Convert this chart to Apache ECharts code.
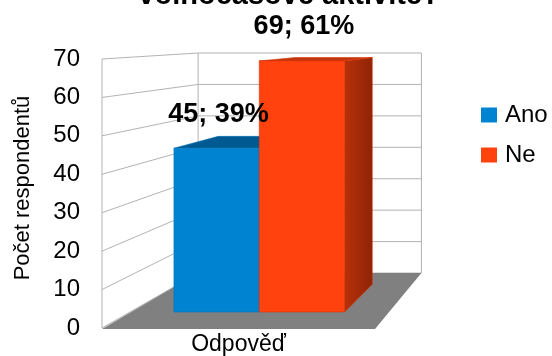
<!DOCTYPE html>
<html>
<head>
<meta charset="utf-8">
<script src="https://cdn.jsdelivr.net/npm/echarts@6/dist/echarts.min.js"></script>
<style>
  html, body { margin: 0; padding: 0; background: #fff; }
  #chart { width: 552px; height: 356px; }
</style>
</head>
<body>
<div id="chart"></div>
<script>
// Survey answers: number of respondents per answer
const titleText = 'volnočasové aktivitě?';
const categories = ['Odpověď'];
const seriesNames = ['Ano', 'Ne'];
const anoValues = [45];
const neValues = [69];
const yTicks = [0, 10, 20, 30, 40, 50, 60, 70];
const axisName = 'Počet respondentů';

const valueSets = [anoValues, neValues];
const totals = categories.map((c, i) => valueSets.reduce((s, arr) => s + arr[i], 0));

const FONT = '"Liberation Sans", Arial, sans-serif';

// Simple one-point perspective used for the 3D box look
const VP_DX = 255;      // vanishing point, right of the plot
const VP_DY = -33;      // vanishing point, above the plot
const S_WALL = 0.818;   // depth scale of the back wall
const S_FRONT = 0.947;  // depth scale of the bar front faces
const S_BACK = 0.855;   // depth scale of the bar back faces
const BAR_SHARE = 0.33; // share of the category band per bar

function vanishing(cs) {
  return [cs.x + cs.width + VP_DX, cs.y + VP_DY];
}
function project(vp, x, y, s) {
  return [vp[0] + s * (x - vp[0]), vp[1] + s * (y - vp[1])];
}

// Left wall and back wall with their grid lines
function renderWalls(params, api) {
  const cs = params.coordSys;
  const vp = vanishing(cs);
  const y = api.coord([api.value(0), api.value(1)])[1];
  const xL = cs.x, xR = cs.x + cs.width;
  const bL = project(vp, xL, y, S_WALL);
  const bR = project(vp, xR, y, S_WALL);
  const lineStyle = { stroke: '#b3b3b3', lineWidth: 1, fill: null };
  const children = [
    { type: 'line', shape: { x1: xL, y1: y, x2: bL[0], y2: bL[1] }, style: lineStyle },
    { type: 'line', shape: { x1: bL[0], y1: bL[1], x2: bR[0], y2: bR[1] }, style: lineStyle }
  ];
  if (params.dataIndex === 0) {
    const yTop = cs.y, yBot = cs.y + cs.height;
    const tl = project(vp, xL, yTop, S_WALL), bl = project(vp, xL, yBot, S_WALL);
    const tr = project(vp, xR, yTop, S_WALL), br = project(vp, xR, yBot, S_WALL);
    children.push(
      { type: 'line', shape: { x1: xL, y1: yTop, x2: xL, y2: yBot }, style: lineStyle },
      { type: 'line', shape: { x1: tl[0], y1: tl[1], x2: bl[0], y2: bl[1] }, style: lineStyle },
      { type: 'line', shape: { x1: tr[0], y1: tr[1], x2: br[0], y2: br[1] }, style: lineStyle }
    );
  }
  return { type: 'group', children };
}

// Floor of the box
function renderFloor(params, api) {
  const cs = params.coordSys;
  const vp = vanishing(cs);
  const y = api.coord([api.value(0), 0])[1];
  const xL = cs.x, xR = cs.x + cs.width;
  return {
    type: 'polygon',
    shape: { points: [[xL, y + 1], [xR, y + 1], project(vp, xR, y, S_WALL), project(vp, xL, y, S_WALL)] },
    style: { fill: '#808080' }
  };
}

// 3D bar: front face, top face and right side face
function barRenderer(slot, look) {
  return function (params, api) {
    const cs = params.coordSys;
    const vp = vanishing(cs);
    const value = api.value(1);
    const top = api.coord([api.value(0), value]);
    const base = api.coord([api.value(0), 0]);
    const w = api.size([1, 0])[0] * BAR_SHARE;
    const x0 = top[0] - w * seriesNames.length / 2 + slot * w;
    const x1 = x0 + w;
    const fTL = project(vp, x0, top[1], S_FRONT), fTR = project(vp, x1, top[1], S_FRONT);
    const fBL = project(vp, x0, base[1], S_FRONT), fBR = project(vp, x1, base[1], S_FRONT);
    const bTL = project(vp, x0, top[1], S_BACK), bTR = project(vp, x1, top[1], S_BACK);
    const bBR = project(vp, x1, base[1], S_BACK);
    const catIdx = params.dataIndex;
    const pct = Math.round(value / totals[catIdx] * 100);
    return {
      type: 'group',
      children: [
        {
          type: 'polygon', z2: slot,
          shape: { points: [fTR, bTR, bBR, fBR] },
          style: {
            fill: new echarts.graphic.LinearGradient(0, 0, 1, 0, [
              { offset: 0, color: look.side[0] }, { offset: 1, color: look.side[1] }
            ]),
            stroke: look.edge, lineWidth: 0.6
          }
        },
        {
          type: 'polygon', z2: slot,
          shape: { points: [fTL, fTR, bTR, bTL] },
          style: { fill: look.top, stroke: look.edge, lineWidth: 0.6 }
        },
        {
          type: 'polygon', z2: slot,
          shape: { points: [fTL, fTR, fBR, fBL] },
          style: { fill: look.front, stroke: look.edge, lineWidth: 0.6 }
        },
        {
          type: 'text', z2: 20,
          x: (fTL[0] + fTR[0]) / 2 + 2,
          y: fTL[1] - 34,
          style: {
            text: value + '; ' + pct + '%',
            align: 'center', verticalAlign: 'middle',
            font: 'bold 27px ' + FONT, fill: '#000'
          }
        }
      ]
    };
  };
}

const looks = [
  { front: '#0084d1', top: '#005a92', side: ['#006aa8', '#004f7e'], edge: '#0072b5' },
  { front: '#ff420e', top: '#c2360c', side: ['#b8300a', '#8e2406'], edge: '#d9380b' }
];

const chart = echarts.init(document.getElementById('chart'), null, { renderer: 'canvas' });

chart.setOption({
  backgroundColor: '#fff',
  animation: false,
  textStyle: { fontFamily: FONT },
  graphic: [{
    type: 'text', x: 289, y: -4,
    style: { text: titleText, align: 'center', verticalAlign: 'middle', font: 'bold 29px ' + FONT, fill: '#000' }
  }],
  legend: {
    orient: 'vertical', left: 481, top: 103, padding: 0,
    itemWidth: 16, itemHeight: 15, itemGap: 16,
    icon: 'rect',
    data: seriesNames,
    textStyle: { fontSize: 24, lineHeight: 24, color: '#000', fontFamily: FONT, padding: [0, 0, 0, 3] }
  },
  grid: { left: 102, top: 59, width: 273, height: 269, outerBoundsMode: 'none' },
  xAxis: {
    type: 'category', data: categories,
    axisLine: { show: false }, axisTick: { show: false },
    axisLabel: { fontSize: 23, color: '#000', margin: 5, fontFamily: FONT }
  },
  yAxis: {
    type: 'value', min: 0, max: 70, interval: 10,
    axisLine: { show: false }, axisTick: { show: false }, splitLine: { show: false },
    axisLabel: { fontSize: 24, color: '#000', margin: 22, fontFamily: FONT },
    name: axisName, nameLocation: 'middle', nameRotate: 90, nameGap: 68,
    nameTextStyle: { fontSize: 22, color: '#000', fontFamily: FONT, padding: [0, 0, 0, 11] }
  },
  series: [
    {
      name: 'walls', type: 'custom', renderItem: renderWalls, clip: false, z: 1,
      silent: true, encode: { x: 0, y: 1 },
      data: yTicks.map(t => [categories[0], t])
    },
    {
      name: 'floor', type: 'custom', renderItem: renderFloor, clip: false, z: 2,
      silent: true, encode: { x: 0, y: 1 },
      data: categories.map(c => [c, 0])
    },
    ...seriesNames.map((name, k) => ({
      name, type: 'custom', renderItem: barRenderer(k, looks[k]), clip: false, z: 3,
      itemStyle: { color: looks[k].front },
      encode: { x: 0, y: 1 },
      data: categories.map((c, i) => [c, valueSets[k][i]])
    }))
  ]
});
</script>
</body>
</html>
